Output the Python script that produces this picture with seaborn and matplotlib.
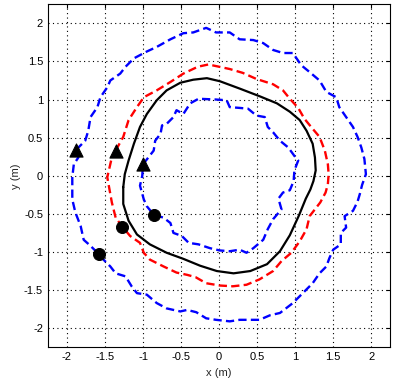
import matplotlib
matplotlib.use("Agg")
import matplotlib.pyplot as plt
import seaborn as sns

# reference path (black, solid)
ref_x = [-1.26, -1.24, -1.19, -1.12, -1.04, -0.95, -0.82, -0.69, -0.51, -0.34, -0.16, 0.01,
         0.28, 0.54, 0.76, 0.93, 1.06, 1.15, 1.23, 1.26, 1.27, 1.24, 1.20, 1.14, 1.05, 0.93,
         0.80, 0.63, 0.41, 0.19, -0.03, -0.25, -0.47, -0.69, -0.91, -1.08, -1.19, -1.26,
         -1.26]
ref_y = [-0.15, 0.02, 0.20, 0.42, 0.64, 0.81, 0.99, 1.12, 1.22, 1.26, 1.28, 1.24,
         1.14, 1.04, 0.95, 0.84, 0.73, 0.59, 0.42, 0.24, 0.07, -0.07, -0.18, -0.30, -0.52, -0.78,
         -0.99, -1.16, -1.25, -1.28, -1.25, -1.18, -1.09, -1.01, -0.90, -0.77, -0.59, -0.37,
         -0.15]

# red dashed trajectory
red_x = [-1.36, -1.26, -1.19, -1.08, -0.99, -0.82, -0.64, -0.47, -0.28, -0.14, 0.14, 0.31,
         0.49, 0.71, 0.84, 0.93, 1.04, 1.12, 1.21, 1.32, 1.39, 1.43, 1.44, 1.43, 1.40, 1.33,
         1.19, 1.15, 1.06, 0.95, 0.82, 0.71, 0.53, 0.36, 0.18, 0.01, -0.17, -0.31, -0.42,
         -0.56, -0.73, -0.91, -0.99, -1.04, -1.17, -1.27, -1.36, -1.41, -1.45, -1.47, -1.41,
         -1.36]
red_y = [0.33, 0.51, 0.73, 0.90, 1.03, 1.12, 1.23, 1.34, 1.43, 1.46, 1.40, 1.35,
         1.27, 1.20, 1.12, 1.01, 0.89, 0.75, 0.64, 0.51, 0.33, 0.15, 0.02, -0.11, -0.22, -0.35,
         -0.53, -0.70, -0.86, -1.01, -1.12, -1.25, -1.36, -1.43, -1.45, -1.44, -1.41, -1.33, -1.30,
         -1.27, -1.19, -1.10, -1.01, -0.88, -0.79, -0.67, -0.55, -0.35, -0.13, -0.02, 0.24,
         0.33]

# blue dashed outer trajectory
outer_x = [-1.88, -1.76, -1.72, -1.69, -1.60, -1.56, -1.47, -1.43, -1.30, -1.23, -1.12, -0.95,
           -0.82, -0.64, -0.47, -0.34, -0.17, -0.04, 0.14, 0.27, 0.45, 0.58, 0.71, 0.84, 0.97,
           1.08, 1.19, 1.32, 1.41, 1.54, 1.58, 1.67, 1.76, 1.82, 1.87, 1.91, 1.93, 1.88, 1.85,
           1.82, 1.76, 1.65, 1.67, 1.60, 1.60, 1.50, 1.45, 1.41, 1.32, 1.23, 1.10, 0.97, 0.80,
           0.67, 0.53, 0.40, 0.27, 0.14, -0.04, -0.17, -0.30, -0.42, -0.51, -0.69, -0.82, -0.95,
           -1.08, -1.15, -1.23, -1.36, -1.43, -1.52, -1.58, -1.69, -1.78, -1.82, -1.89, -1.93,
           -1.93, -1.93, -1.91, -1.85, -1.88]
outer_y = [0.34, 0.46, 0.59, 0.77, 0.90, 1.03, 1.16, 1.25, 1.34, 1.43, 1.54, 1.63,
           1.69, 1.79, 1.87, 1.88, 1.94, 1.88, 1.88, 1.79, 1.78, 1.74, 1.65, 1.61, 1.61,
           1.45, 1.36, 1.25, 1.10, 1.03, 0.90, 0.77, 0.64, 0.51, 0.37, 0.22, 0.02, -0.12, -0.24,
           -0.34, -0.46, -0.53, -0.68, -0.75, -0.90, -0.97, -1.08, -1.19, -1.28, -1.41, -1.54,
           -1.67, -1.80, -1.83, -1.89, -1.89, -1.89, -1.91, -1.89, -1.87, -1.79, -1.76, -1.78,
           -1.74, -1.67, -1.56, -1.54, -1.45, -1.32, -1.28, -1.19, -1.10, -1.03, -0.92, -0.84,
           -0.66, -0.48, -0.31, -0.13, -0.02, 0.15, 0.24, 0.34]

# blue dashed inner trajectory
inner_x = [-1.00, -0.86, -0.84, -0.77, -0.75, -0.69, -0.60, -0.56, -0.47, -0.38, -0.27, -0.04,
           0.10, 0.14, 0.27, 0.38, 0.49, 0.60, 0.64, 0.71, 0.80, 0.91, 0.99, 1.04, 0.99, 0.98,
           0.93, 0.84, 0.78, 0.82, 0.71, 0.64, 0.58, 0.45, 0.36, 0.27, 0.14, 0.01, -0.12, -0.27,
           -0.40, -0.49, -0.60, -0.64, -0.73, -0.86, -0.95, -0.99, -1.04, -1.01, -1.00]
inner_y = [0.15, 0.33, 0.46, 0.55, 0.66, 0.68, 0.77, 0.86, 0.81, 0.95, 1.01, 1.00,
           0.99, 0.90, 0.89, 0.88, 0.79, 0.77, 0.64, 0.57, 0.46, 0.37, 0.26, 0.20, 0.07, -0.07,
           -0.19, -0.22, -0.30, -0.44, -0.57, -0.70, -0.84, -0.95, -1.01, -0.97, -0.99, -0.98, -0.95,
           -0.90, -0.88, -0.79, -0.75, -0.62, -0.55, -0.51, -0.40, -0.31, -0.13, 0.00, 0.15]

start_x = [-1.88, -1.36, -1.00]
start_y = [0.34, 0.33, 0.15]
end_x = [-1.58, -1.27, -0.86]
end_y = [-1.03, -0.67, -0.51]

ticks = [-2, -1.5, -1, -0.5, 0, 0.5, 1, 1.5, 2]
tick_labels = ["-2", "-1.5", "-1", "-0.5", "0", "0.5", "1", "1.5", "2"]

sns.set_style("white")
plt.rcParams["font.family"] = ["Liberation Sans", "DejaVu Sans"]

fig = plt.figure(figsize=(3.93, 3.85), dpi=100)
ax = fig.add_axes([0.122, 0.098, 0.871, 0.891])

sns.lineplot(x=ref_x, y=ref_y, sort=False, estimator=None, color="black",
             linewidth=1.6, ax=ax)
sns.lineplot(x=red_x, y=red_y, sort=False, estimator=None, color="red",
             linewidth=1.7, ax=ax)
ax.lines[-1].set_dashes((3.5, 1.8))
for xs, ys in [(outer_x, outer_y), (inner_x, inner_y)]:
    sns.lineplot(x=xs, y=ys, sort=False, estimator=None, color="blue",
                 linewidth=1.7, ax=ax)
    ax.lines[-1].set_dashes((3.5, 1.8))

sns.scatterplot(x=start_x, y=start_y, marker="^", s=90, color="black",
                edgecolor="black", zorder=5, ax=ax)
sns.scatterplot(x=end_x, y=end_y, marker="o", s=75, color="black",
                edgecolor="black", zorder=5, ax=ax)

ax.set_xlim(-2.25, 2.25)
ax.set_ylim(-2.25, 2.25)
ax.set_xticks(ticks)
ax.set_xticklabels(tick_labels)
ax.set_yticks(ticks)
ax.set_yticklabels(tick_labels)
ax.grid(True, linestyle=(0, (1, 3)), color="black", linewidth=0.8)
ax.tick_params(direction="in", length=3, labelsize=8, colors="black",
               top=True, right=True)
for s in ax.spines.values():
    s.set_color("black")
    s.set_linewidth(0.8)
ax.set_xlabel("x (m)", fontsize=8, labelpad=4)
ax.set_ylabel("y (m)", fontsize=8, labelpad=2)

fig.savefig("out.png", dpi=100)
